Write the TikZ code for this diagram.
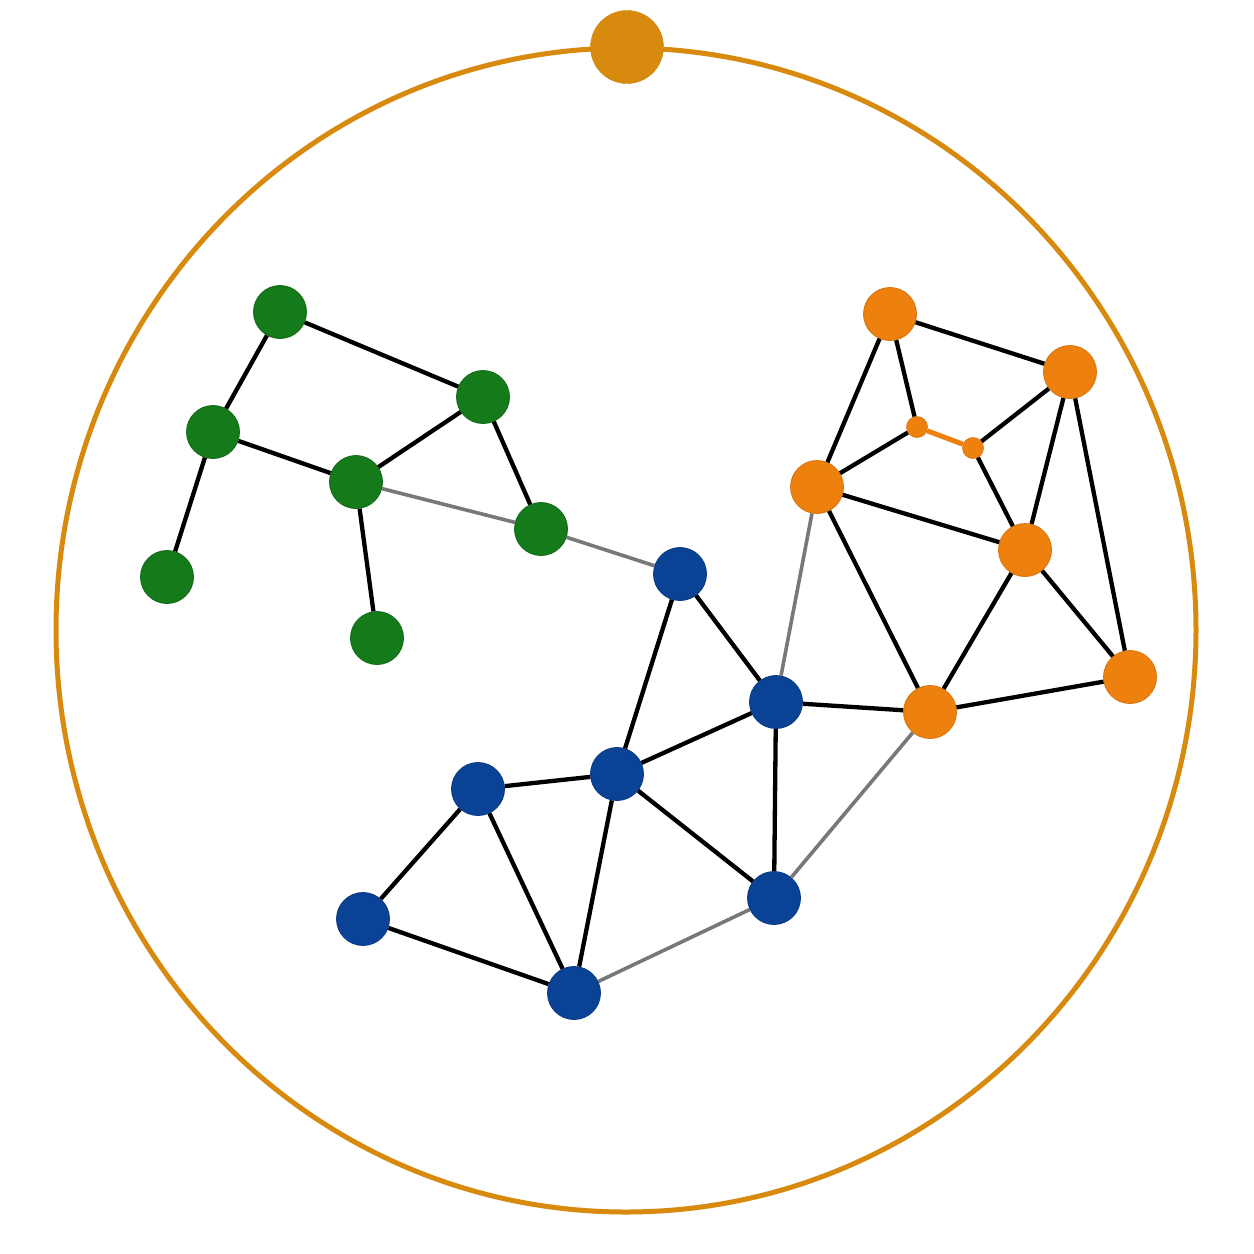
\documentclass[tikz,border=0pt]{standalone}
\begin{document}
\begin{tikzpicture}[x=1pt,y=-1pt,
  ringc/.style={draw=ringcol, line width=5pt},
  nd/.style={circle, inner sep=0pt, minimum size=53pt, line width=0.8pt},
  gn/.style={nd, fill=gcol, draw=gcol!85!black},
  bn/.style={nd, fill=bcol, draw=bcol!85!black},
  on/.style={nd, fill=ocol, draw=ocol!90!black},
  sn/.style={circle, inner sep=0pt, minimum size=21pt, fill=ocol, draw=ocol!90!black, line width=0.6pt},
  tn/.style={circle, inner sep=0pt, minimum size=73pt, fill=ringcol, draw=ringcol!95!black},
  ed/.style={draw=black, line width=4.3pt},
  ge/.style={draw=edgegray, line width=3.6pt},
  oe/.style={draw=ocol, line width=5pt}]
\definecolor{ringcol}{RGB}{216,138,14}
\definecolor{gcol}{RGB}{20,122,26}
\definecolor{bcol}{RGB}{10,66,150}
\definecolor{ocol}{RGB}{238,128,14}
\definecolor{edgegray}{RGB}{120,120,120}
\useasboundingbox (0,0) rectangle (1254,1254);
\fill[white] (0,0) rectangle (1254,1254);
\draw[ringc] (626,630) ellipse [x radius=570, y radius=582];
\node[tn] (top) at (627,47) {};
% green
\node[gn] (g1) at (280,312) {};
\node[gn] (g2) at (483,397) {};
\node[gn] (g3) at (213,432) {};
\node[gn] (g4) at (356,482) {};
\node[gn] (g5) at (541,529) {};
\node[gn] (g6) at (167,577) {};
\node[gn] (g7) at (377,638) {};
% blue
\node[bn] (b1) at (680,574) {};
\node[bn] (b2) at (776,702) {};
\node[bn] (b3) at (617,774) {};
\node[bn] (b4) at (478,789) {};
\node[bn] (b5) at (363,919) {};
\node[bn] (b6) at (574,993) {};
\node[bn] (b7) at (774,898) {};
% orange
\node[on] (o1) at (890,314) {};
\node[on] (o2) at (1070,372) {};
\node[sn] (o3) at (917,427) {};
\node[sn] (o4) at (973,448) {};
\node[on] (o5) at (817,487) {};
\node[on] (o6) at (1025,550) {};
\node[on] (o7) at (930,712) {};
\node[on] (o8) at (1130,677) {};
% edges
\draw[ge] (g4) -- (g5);
\draw[ge] (g5) -- (b1);
\draw[ge] (b6) -- (b7);
\draw[ge] (b7) -- (o7);
\draw[ge] (b2) -- (o5);
\draw[ed] (g1) -- (g2);
\draw[ed] (g1) -- (g3);
\draw[ed] (g3) -- (g4);
\draw[ed] (g4) -- (g2);
\draw[ed] (g2) -- (g5);
\draw[ed] (g3) -- (g6);
\draw[ed] (g4) -- (g7);
\draw[ed] (b1) -- (b2);
\draw[ed] (b1) -- (b3);
\draw[ed] (b2) -- (b3);
\draw[ed] (b2) -- (b7);
\draw[ed] (b3) -- (b4);
\draw[ed] (b3) -- (b7);
\draw[ed] (b3) -- (b6);
\draw[ed] (b4) -- (b5);
\draw[ed] (b4) -- (b6);
\draw[ed] (b5) -- (b6);
\draw[ed] (b2) -- (o7);
\draw[ed] (o1) -- (o2);
\draw[ed] (o1) -- (o5);
\draw[ed] (o1) -- (o3);
\draw[ed] (o3) -- (o5);
\draw[ed] (o4) -- (o2);
\draw[ed] (o4) -- (o6);
\draw[ed] (o2) -- (o6);
\draw[ed] (o2) -- (o8);
\draw[ed] (o5) -- (o6);
\draw[ed] (o5) -- (o7);
\draw[ed] (o6) -- (o7);
\draw[ed] (o6) -- (o8);
\draw[ed] (o7) -- (o8);
\draw[oe] (o3) -- (o4);
\end{tikzpicture}
\end{document}
